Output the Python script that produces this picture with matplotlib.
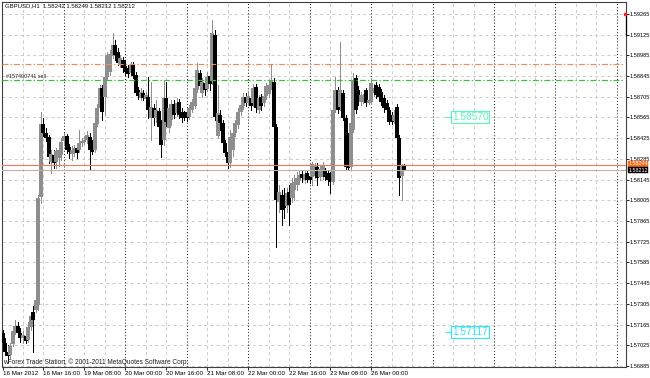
import matplotlib
matplotlib.use("Agg")
import matplotlib.pyplot as plt
import matplotlib.transforms as mtransforms

plt.rcParams['font.family'] = ['Liberation Sans', 'DejaVu Sans']
plt.rcParams['lines.scale_dashes'] = False

symbol_title = "GBPUSD,H1  1.58242 1.58249 1.58212 1.58212"
copyright_text = "wForex Trade Station, \u00a9 2001-2011 MetaQuotes Software Corp."
order_label = "#157400741 sell"

opens = [
    1.57108, 1.57040, 1.56980, 1.56959, 1.57034, 1.57121, 1.57155, 1.57108, 1.57074, 1.57088,
    1.57061, 1.57149, 1.57250, 1.57263, 1.57297, 1.58027, 1.58521, 1.58460, 1.58433, 1.58264,
    1.58311, 1.58264, 1.58291, 1.58311, 1.58406, 1.58440, 1.58365, 1.58318, 1.58338, 1.58359,
    1.58345, 1.58392, 1.58399, 1.58413, 1.58433, 1.58372, 1.58345, 1.58521, 1.58629, 1.58764,
    1.58703, 1.58839, 1.58872, 1.58980, 1.59055, 1.59008, 1.58926, 1.58953, 1.58913, 1.58899,
    1.58866, 1.58926, 1.58852, 1.58751, 1.58697, 1.58730, 1.58690, 1.58703, 1.58561, 1.58629,
    1.58561, 1.58609, 1.58514, 1.58413, 1.58697, 1.58494, 1.58548, 1.58656, 1.58595, 1.58670,
    1.58602, 1.58595, 1.58602, 1.58568, 1.58615, 1.58642, 1.58751, 1.58866, 1.58730, 1.58798,
    1.58757, 1.58845, 1.58818, 1.59122, 1.58440, 1.58582, 1.58528, 1.58392, 1.58332, 1.58257,
    1.58345, 1.58460, 1.58514, 1.58602, 1.58642, 1.58703, 1.58663, 1.58697, 1.58663, 1.58771,
    1.58615, 1.58703, 1.58663, 1.58710, 1.58724, 1.58778, 1.58805, 1.58501, 1.57994, 1.58041,
    1.58007, 1.57966, 1.58061, 1.58021, 1.58075, 1.58108, 1.58135, 1.58183, 1.58142, 1.58190,
    1.58169, 1.58163, 1.58169, 1.58230, 1.58163, 1.58163, 1.58210, 1.58190, 1.58176, 1.58129,
    1.58615, 1.58751, 1.58636, 1.58730, 1.58561, 1.58433, 1.58230, 1.58480, 1.58832, 1.58751,
    1.58670, 1.58683, 1.58751, 1.58663, 1.58670, 1.58730, 1.58784, 1.58771, 1.58737, 1.58697,
    1.58663, 1.58615, 1.58582, 1.58541, 1.58636, 1.58426, 1.58169, 1.58242]

highs = [
    1.57128, 1.57074, 1.57027, 1.57040, 1.57149, 1.57196, 1.57182, 1.57142, 1.57121, 1.57121,
    1.57182, 1.57250, 1.57290, 1.57419, 1.58041, 1.58602, 1.58561, 1.58494, 1.58446, 1.58345,
    1.58345, 1.58359, 1.58392, 1.58426, 1.58460, 1.58453, 1.58386, 1.58372, 1.58379, 1.58372,
    1.58480, 1.58426, 1.58440, 1.58473, 1.58460, 1.58413, 1.58548, 1.58656, 1.58784, 1.58784,
    1.58852, 1.59008, 1.59021, 1.59136, 1.59089, 1.59035, 1.58987, 1.58974, 1.58953, 1.58920,
    1.58940, 1.58940, 1.58872, 1.58771, 1.58764, 1.58751, 1.58737, 1.58839, 1.58805, 1.58656,
    1.58683, 1.58629, 1.58548, 1.58818, 1.58805, 1.58649, 1.58683, 1.58683, 1.58697, 1.58690,
    1.58629, 1.58609, 1.58615, 1.58649, 1.58690, 1.58784, 1.58933, 1.58886, 1.58832, 1.58818,
    1.58872, 1.58872, 1.59224, 1.59156, 1.58784, 1.58615, 1.58548, 1.58413, 1.58359, 1.58480,
    1.58494, 1.58548, 1.58629, 1.58683, 1.58730, 1.58730, 1.58737, 1.58724, 1.58791, 1.58791,
    1.58717, 1.58724, 1.58737, 1.58798, 1.58805, 1.58920, 1.58832, 1.58521, 1.58108, 1.58075,
    1.58088, 1.58088, 1.58108, 1.58156, 1.58176, 1.58196, 1.58210, 1.58210, 1.58203, 1.58210,
    1.58196, 1.58264, 1.58257, 1.58257, 1.58237, 1.58264, 1.58223, 1.58210, 1.58196, 1.58649,
    1.58839, 1.58771, 1.59075, 1.58751, 1.58582, 1.58460, 1.58548, 1.58866, 1.58852, 1.58778,
    1.58737, 1.58724, 1.58764, 1.58703, 1.58832, 1.58791, 1.58805, 1.58791, 1.58757, 1.58717,
    1.58683, 1.58636, 1.58602, 1.58615, 1.58656, 1.58446, 1.58250, 1.58249]

lows = [
    1.57013, 1.56959, 1.56912, 1.56939, 1.57020, 1.57101, 1.57088, 1.57047, 1.57040, 1.57040,
    1.57047, 1.57128, 1.56980, 1.57250, 1.57263, 1.57987, 1.58440, 1.58406, 1.58257, 1.58190,
    1.58223, 1.58223, 1.58237, 1.58277, 1.58386, 1.58325, 1.58291, 1.58277, 1.58304, 1.58291,
    1.58332, 1.58372, 1.58386, 1.58392, 1.58210, 1.58318, 1.58332, 1.58507, 1.58609, 1.58548,
    1.58582, 1.58818, 1.58852, 1.58967, 1.58953, 1.58920, 1.58906, 1.58872, 1.58852, 1.58839,
    1.58852, 1.58832, 1.58717, 1.58690, 1.58683, 1.58683, 1.58670, 1.58561, 1.58413, 1.58514,
    1.58534, 1.58467, 1.58298, 1.58379, 1.58507, 1.58467, 1.58514, 1.58561, 1.58575, 1.58561,
    1.58534, 1.58548, 1.58541, 1.58555, 1.58602, 1.58629, 1.58737, 1.58751, 1.58703, 1.58717,
    1.58744, 1.58751, 1.58791, 1.58548, 1.58426, 1.58480, 1.58372, 1.58304, 1.58223, 1.58230,
    1.58304, 1.58440, 1.58494, 1.58582, 1.58622, 1.58642, 1.58649, 1.58615, 1.58642, 1.58602,
    1.58595, 1.58615, 1.58642, 1.58690, 1.58703, 1.58757, 1.58487, 1.57689, 1.57926, 1.57838,
    1.57885, 1.57926, 1.57838, 1.57994, 1.58007, 1.58075, 1.58115, 1.58129, 1.58122, 1.58129,
    1.58122, 1.58108, 1.58156, 1.58108, 1.58142, 1.58149, 1.58142, 1.58108, 1.58054, 1.58115,
    1.58602, 1.58595, 1.58615, 1.58548, 1.58217, 1.58210, 1.58217, 1.58467, 1.58595, 1.58649,
    1.58649, 1.58663, 1.58642, 1.58656, 1.58656, 1.58710, 1.58697, 1.58683, 1.58649, 1.58602,
    1.58595, 1.58521, 1.58521, 1.58528, 1.58413, 1.58041, 1.58007, 1.58212]

closes = [
    1.57040, 1.56980, 1.56952, 1.57020, 1.57121, 1.57155, 1.57108, 1.57074, 1.57094, 1.57054,
    1.57149, 1.57223, 1.57196, 1.57331, 1.58021, 1.58521, 1.58460, 1.58426, 1.58298, 1.58318,
    1.58257, 1.58338, 1.58345, 1.58399, 1.58440, 1.58345, 1.58332, 1.58345, 1.58359, 1.58325,
    1.58392, 1.58406, 1.58413, 1.58446, 1.58345, 1.58332, 1.58528, 1.58629, 1.58764, 1.58602,
    1.58839, 1.58987, 1.58994, 1.59055, 1.58987, 1.58933, 1.58967, 1.58899, 1.58872, 1.58859,
    1.58920, 1.58845, 1.58730, 1.58710, 1.58737, 1.58697, 1.58717, 1.58615, 1.58636, 1.58561,
    1.58615, 1.58501, 1.58379, 1.58697, 1.58534, 1.58629, 1.58656, 1.58582, 1.58663, 1.58582,
    1.58561, 1.58568, 1.58561, 1.58629, 1.58670, 1.58764, 1.58886, 1.58778, 1.58805, 1.58751,
    1.58839, 1.58791, 1.59136, 1.58568, 1.58595, 1.58528, 1.58392, 1.58325, 1.58257, 1.58433,
    1.58460, 1.58528, 1.58602, 1.58649, 1.58703, 1.58663, 1.58710, 1.58642, 1.58764, 1.58629,
    1.58697, 1.58642, 1.58710, 1.58778, 1.58784, 1.58818, 1.58501, 1.58007, 1.58061, 1.57939,
    1.57953, 1.58054, 1.57973, 1.58122, 1.58129, 1.58156, 1.58176, 1.58156, 1.58183, 1.58142,
    1.58142, 1.58250, 1.58237, 1.58156, 1.58217, 1.58244, 1.58163, 1.58142, 1.58129, 1.58615,
    1.58751, 1.58615, 1.58751, 1.58561, 1.58230, 1.58223, 1.58528, 1.58818, 1.58615, 1.58670,
    1.58717, 1.58703, 1.58663, 1.58683, 1.58798, 1.58764, 1.58717, 1.58703, 1.58670, 1.58629,
    1.58615, 1.58534, 1.58534, 1.58582, 1.58426, 1.58156, 1.58237, 1.58212]

time_labels = ['16 Mar 2012', '16 Mar 16:00', '19 Mar 08:00', '20 Mar 00:00',
               '20 Mar 16:00', '21 Mar 08:00', '22 Mar 00:00', '22 Mar 16:00',
               '23 Mar 08:00', '26 Mar 00:00']
time_label_bars = [0, 16, 32, 48, 64, 80, 96, 112, 128, 144]
day_separator_bars = [24, 48, 72, 96, 120, 144, 168, 192, 216, 240]
grid_bars = [8, 16, 32, 40, 56, 64, 80, 88, 104, 112, 128, 136, 152, 160,
             176, 184, 200, 208, 224, 232]
price_ticks = [1.56885, 1.57025, 1.57165, 1.57305, 1.57445, 1.57585, 1.57725,
               1.57865, 1.58005, 1.58145, 1.58285, 1.58425, 1.58565, 1.58705,
               1.58845, 1.58985, 1.59125, 1.59265]

level_price = 1.58926          # orange dash-dot level
order_price = 1.58818          # green dash-dot order line
ask_price = 1.58244
bid_price = 1.58212
price_label_values = [1.58570, 1.57117]
price_label_colors = ['#5cf5b8', '#2ee6f5']
price_label_bar = 175.6
edge_line_prices = [1.59265, 1.59125]

BULL = '#8e8e8e'
BEAR = '#000000'
FS_AXIS = 4.1
FS_TIME = 4.5

fig = plt.figure(figsize=(6.5, 3.78), dpi=100)
fig.patch.set_facecolor('white')
ax = fig.add_axes([1.5 / 650, 11.5 / 378, 624.5 / 650, 365 / 378])
ax.set_facecolor('white')
ax.set_xlim(-0.4, 243.55)
ax.set_ylim(1.56882, 1.59349)

# grid
for p in price_ticks:
    ax.axhline(p, color='#cccccc', lw=0.7, ls=(0, (2.2, 2.2)), zorder=0)
for b in grid_bars:
    ax.axvline(b, color='#cccccc', lw=0.7, ls=(0, (2.2, 2.2)), zorder=0)
for b in day_separator_bars:
    ax.axvline(b, color='#202020', lw=0.7, ls=(0, (0.75, 1.5)), zorder=0.5)

# candles: wicks 1px, bodies 2px
xs = list(range(len(opens)))
colors = [BULL if c >= o else BEAR for o, c in zip(opens, closes)]
ax.vlines(xs, lows, highs, colors=colors, lw=0.72, antialiased=False, zorder=2)
body_lo = [min(o, c) for o, c in zip(opens, closes)]
body_hi = [max(max(o, c), min(o, c) + 0.00007) for o, c in zip(opens, closes)]
ax.vlines(xs, body_lo, body_hi, colors=colors, lw=1.5, antialiased=False,
          capstyle='butt', zorder=3)

# level lines
ax.hlines(level_price, -0.4, 242.2, color='#f5875e', lw=0.85,
          ls=(0, (4.3, 1.5, 1.0, 1.5)), zorder=4)
ax.hlines(order_price, -0.4, 242.2, color='#3cbf3c', lw=0.85,
          ls=(0, (4.3, 1.5, 1.0, 1.5)), zorder=4)
ax.annotate(order_label, (1.3, order_price), xytext=(0, 0.8),
            textcoords='offset points', fontsize=3.9, va='bottom', ha='left',
            color='#202020', zorder=5)

# ask / bid lines
ax.axhline(ask_price, color='#f07a55', lw=0.8, zorder=4)
ax.axhline(bid_price, color='#b4b4b4', lw=0.8, zorder=4)

# price label objects
for val, col in zip(price_label_values, price_label_colors):
    ax.plot([price_label_bar - 2.4, price_label_bar - 0.2], [val, val],
            color=col, lw=0.8, zorder=5)
    ax.text(price_label_bar, val, f'{val:.5f}', fontsize=7.3, color=col,
            va='center', ha='left', zorder=6,
            bbox=dict(boxstyle='square,pad=0.08', fc='white', ec=col, lw=0.8))

# edge marker
ax.plot([243.45, 243.45], edge_line_prices, color='black', lw=0.9,
        clip_on=False, zorder=6)
ax.plot([243.2], [edge_line_prices[0]], marker='s', ms=1.6, color='#ff2020',
        clip_on=False, zorder=7, lw=0)

# texts
ax.text(0.0056, 0.988, symbol_title, transform=ax.transAxes, fontsize=4.3,
        va='center', ha='left', color='#101010')
ax.text(0.0024, 0.0125, copyright_text, transform=ax.transAxes, fontsize=4.7,
        va='center', ha='left', color='#202020')

# axes styling
for s in ax.spines.values():
    s.set_color('#404040')
    s.set_linewidth(0.8)
ax.yaxis.tick_right()
ax.set_yticks(price_ticks)
ax.set_yticklabels([f'{p:.5f}' for p in price_ticks])
ax.set_xticks(time_label_bars)
ax.set_xticklabels(time_labels)
for lab in ax.get_xticklabels():
    lab.set_horizontalalignment('left')
ax.tick_params(axis='y', which='both', direction='out', length=2.0, width=0.6,
               pad=0.6, labelsize=FS_AXIS, colors='black')
ax.tick_params(axis='x', which='both', direction='out', length=2.3, width=0.6,
               pad=1.0, labelsize=FS_TIME, colors='black')

trans = mtransforms.blended_transform_factory(ax.transAxes, ax.transData)
ax.text(1.0035, ask_price + 0.00008, f'{ask_price:.5f}', transform=trans,
        fontsize=3.9, color='white', va='center', ha='left', clip_on=False,
        bbox=dict(boxstyle='square,pad=0.06', fc='#ff6a1a', ec='#ff6a1a', lw=0.3),
        zorder=8)
ax.text(1.0035, bid_price - 0.00004, f'{bid_price:.5f}', transform=trans,
        fontsize=3.9, color='white', va='center', ha='left', clip_on=False,
        bbox=dict(boxstyle='square,pad=0.06', fc='black', ec='black', lw=0.3),
        zorder=9)

fig.savefig('out.png', dpi=100)
